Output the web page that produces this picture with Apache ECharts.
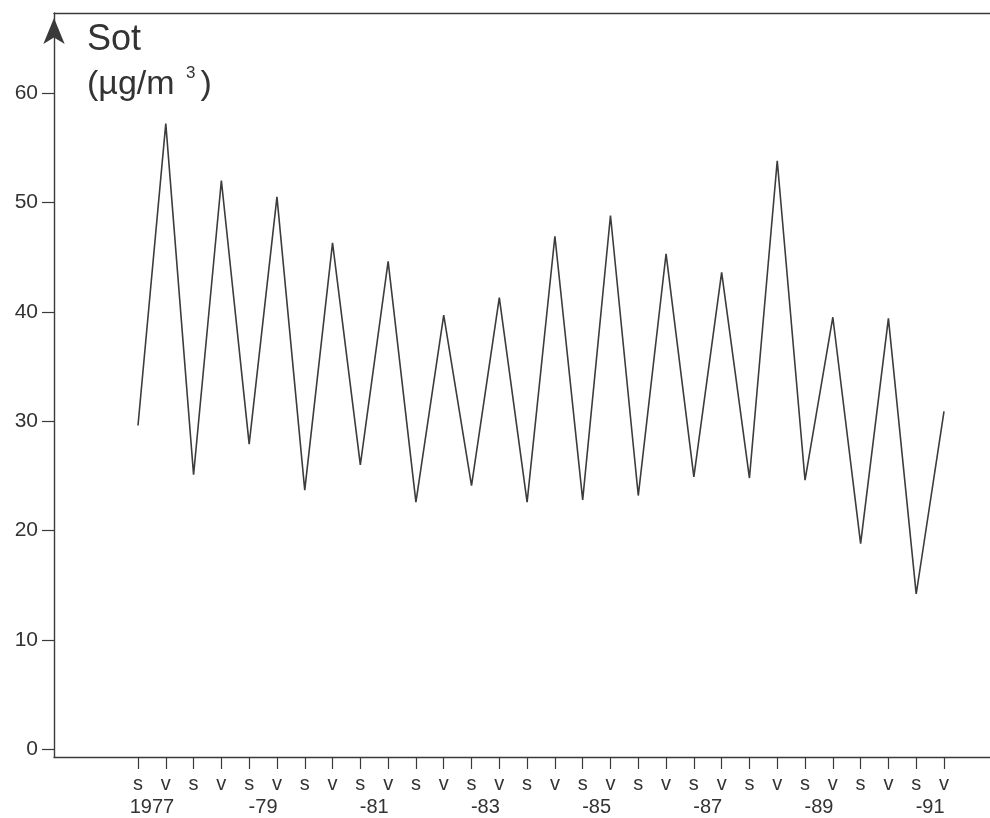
<!DOCTYPE html>
<html>
<head>
<meta charset="utf-8">
<script src="https://cdn.jsdelivr.net/npm/echarts@6/dist/echarts.min.js"></script>
<style>
html,body{margin:0;padding:0;background:#fff;}
#chart{width:990px;height:818px;}
</style>
</head>
<body>
<div id="chart"></div>
<script>
// Season labels (s = sommar, v = vinter), 1977 .. 1991
const seasonLabels = ['s','v','s','v','s','v','s','v','s','v','s','v','s','v','s','v','s','v','s','v','s','v','s','v','s','v','s','v','s','v'];
const yearLabels = ['1977','-79','-81','-83','-85','-87','-89','-91'];
const yearPositions = [0.5, 4.5, 8.5, 12.5, 16.5, 20.5, 24.5, 28.5];
const sotValues = [29.6, 57.2, 25.1, 52.0, 27.9, 50.5, 23.7, 46.3, 26.0, 44.6, 22.6, 39.7, 24.1, 41.3, 22.6, 46.9, 22.8, 48.8, 23.2, 45.3, 24.9, 43.6, 24.8, 53.8, 24.6, 39.5, 18.8, 39.4, 14.2, 30.9];
const yTicks = [0, 10, 20, 30, 40, 50, 60];

const seasonIdx = seasonLabels.map((_, i) => i);
const seriesData = sotValues.map((v, i) => [i, v]);

const axisColor = '#3a3a3a';
const textColor = '#333';
const fontFamily = '"Liberation Sans", Arial, Helvetica, sans-serif';

const chart = echarts.init(document.getElementById('chart'), null, {renderer: 'canvas'});
chart.setOption({
  animation: false,
  backgroundColor: '#fff',
  grid: {left: 54, right: 0, top: 13, bottom: 61, containLabel: false},
  xAxis: [
    {
      type: 'value', position: 'bottom', min: -3.022, max: 30.655,
      axisLine: {show: true, onZero: false, lineStyle: {color: axisColor, width: 1.4}},
      axisTick: {show: true, customValues: seasonIdx, length: 12, lineStyle: {color: axisColor, width: 1.2}},
      axisLabel: {show: true, customValues: seasonIdx, margin: 17,
        formatter: v => seasonLabels[Math.round(v)] || '',
        color: textColor, fontSize: 20, fontFamily: fontFamily},
      splitLine: {show: false}
    },
    {
      type: 'value', position: 'bottom', min: -3.022, max: 30.655,
      axisLine: {show: false, onZero: false}, axisTick: {show: false},
      axisLabel: {show: true, customValues: yearPositions, margin: 40,
        formatter: v => yearLabels[yearPositions.indexOf(v)] || '',
        color: textColor, fontSize: 20, fontFamily: fontFamily},
      splitLine: {show: false}
    },
    {
      type: 'value', position: 'top', min: -3.022, max: 30.655,
      axisLine: {show: true, onZero: false, lineStyle: {color: axisColor, width: 1.4}},
      axisTick: {show: false}, axisLabel: {show: false}, splitLine: {show: false}
    }
  ],
  yAxis: {
    type: 'value', min: -0.7, max: 67.31,
    axisLine: {show: true, onZero: false, symbol: ['none', 'arrow'], symbolSize: [16, 26], symbolOffset: [0, -5], lineStyle: {color: axisColor, width: 1.4}},
    axisTick: {show: true, customValues: yTicks, length: 12, lineStyle: {color: axisColor, width: 1.2}},
    axisLabel: {show: true, customValues: yTicks, margin: 16, color: textColor, fontSize: 21, fontFamily: fontFamily},
    splitLine: {show: false}
  },
  series: [{
    type: 'line', xAxisIndex: 0, data: seriesData, symbol: 'none',
    lineStyle: {color: '#3c3c3c', width: 1.6}
  }],
  graphic: [
    {type: 'text', left: 87, top: 22, style: {text: 'Sot', fontSize: 36, fontFamily: fontFamily, fill: textColor}},
    {type: 'text', left: 87, top: 65, style: {
      text: '{a|(µg/m }{s|3}{a|)}', fontFamily: fontFamily, fill: textColor,
      rich: {
        a: {fontSize: 34, fontFamily: fontFamily, color: textColor, lineHeight: 40},
        s: {fontSize: 17, fontFamily: fontFamily, color: textColor, verticalAlign: 'top', lineHeight: 40, padding: [0, 5, 14, 2]}
      }
    }}
  ]
});
</script>
</body>
</html>
